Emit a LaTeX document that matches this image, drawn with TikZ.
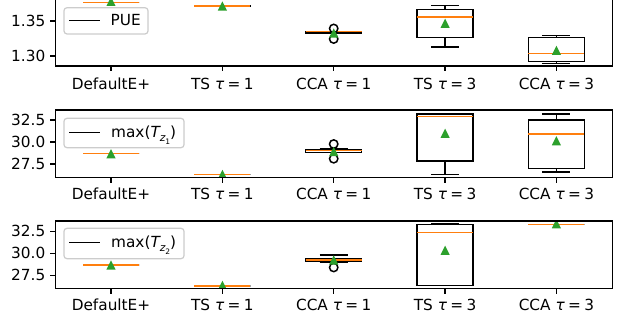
\documentclass[tikz,border=0pt]{standalone}
\usepackage{fontspec}
\setmainfont{DejaVu Sans}[ItalicFont={DejaVu Sans Oblique}]
\definecolor{medc}{HTML}{FF7F0E}
\definecolor{meanc}{HTML}{2CA02C}
\definecolor{legc}{HTML}{CCCCCC}
\tikzset{
  boxl/.style={line width=1.5pt},
  medl/.style={medc, line width=1.5pt},
  whisk/.style={line width=1.5pt},
  flier/.style={line width=1.5pt},
  axframe/.style={line width=1.2pt},
  tickl/.style={line width=1.2pt},
  xlab/.style={anchor=base, inner sep=0pt},
  ylab/.style={anchor=east, inner sep=0pt},
  legframe/.style={draw=legc, fill=white, fill opacity=0.8, line width=1.2pt, rounded corners=3pt},
  legline/.style={line width=1.5pt},
  legtxt/.style={anchor=base west, inner sep=0pt},
}
% centre, low whisker, q1, median, q3, high whisker, mean, fliers
\newcommand{\bxp}[8]{%
  \draw[whisk] (#1,#2) -- (#1,#3) (#1,#5) -- (#1,#6);
  \draw[whisk] (#1-14,#2) -- (#1+14,#2) (#1-14,#6) -- (#1+14,#6);
  \draw[boxl] (#1-28,#3) rectangle (#1+28,#5);
  \draw[medl] (#1-28,#4) -- (#1+28,#4);
  \if\relax\detokenize{#8}\relax\else
    \foreach \f in {#8} {\draw[flier] (#1,\f) circle[radius=4.2pt];}
  \fi
  \fill[meanc] (#1,#7) +(-4.6pt,-4.6pt) -- +(4.6pt,-4.6pt) -- +(0pt,4.6pt) -- cycle;
}
\newcommand{\tlab}[2]{#1 {\itshape τ}\hspace{.22em}=\hspace{.22em}#2}
\newcommand{\Tz}[1]{{\itshape T}\raisebox{-.3em}{\fontsize{10.7}{12}\selectfont\itshape z\raisebox{-.22em}{\fontsize{7.5}{9}\selectfont\upshape #1}}}

\begin{document}
\begin{tikzpicture}[x=1pt, y=-1pt, font=\fontsize{15.3}{18}\selectfont]
  \useasboundingbox (0,0) rectangle (621,320);
  \clip (0,0) rectangle (621,320);

  % PUE
  \begin{scope}[y=700pt, yshift=-966pt]
    \begin{scope}
      \clip (55.3,1.3807) rectangle (612.3,1.2857);
      \bxp{111}{1.3762}{1.3762}{1.3762}{1.3762}{1.3762}{1.3780}{}
      \bxp{222.4}{1.3704}{1.3704}{1.3714}{1.3714}{1.3714}{1.3714}{}
      \bxp{333.7}{1.3331}{1.3331}{1.3347}{1.3350}{1.3350}{1.3329}{1.3393,1.3243}
      \bxp{445.1}{1.3129}{1.3261}{1.3557}{1.3661}{1.3719}{1.3467}{}
      \bxp{556.4}{1.2890}{1.2919}{1.3039}{1.3261}{1.3296}{1.3081}{}
    \end{scope}
    \draw[axframe] (55.3,1.3807) rectangle (612.3,1.2857);
    \foreach \v [count=\j] in {1.30,1.35}
      {\draw[tickl] (50,\v) -- (55.3,\v);
       \node[ylab] (ya\j) at (45.5,\v) {\v};}
  \end{scope}

  % max T_z1
  \begin{scope}[y=8.8pt, yshift=-406pt]
    \begin{scope}
      \clip (55.3,33.636) rectangle (612.3,25.943);
      \bxp{111}{28.67}{28.67}{28.67}{28.67}{28.67}{28.67}{}
      \bxp{222.4}{26.30}{26.30}{26.30}{26.30}{26.30}{26.32}{}
      \bxp{333.7}{28.83}{28.83}{29.01}{29.16}{29.20}{28.92}{29.77,28.10}
      \bxp{445.1}{26.28}{27.84}{32.92}{33.18}{33.22}{30.99}{}
      \bxp{556.4}{26.59}{27.01}{30.91}{32.50}{33.18}{30.15}{}
    \end{scope}
    \draw[axframe] (55.3,33.636) rectangle (612.3,25.943);
    \foreach \v [count=\j] in {27.5,30.0,32.5}
      {\draw[tickl] (50,\v) -- (55.3,\v);
       \node[ylab] (yb\j) at (45.5,\v) {\v};}
  \end{scope}

  % max T_z2
  \begin{scope}[y=8.8pt, yshift=-517.3pt]
    \begin{scope}
      \clip (55.3,33.67) rectangle (612.3,25.977);
      \bxp{111}{28.67}{28.67}{28.67}{28.67}{28.67}{28.67}{}
      \bxp{222.4}{26.28}{26.28}{26.28}{26.28}{26.28}{26.36}{}
      \bxp{333.7}{28.98}{29.09}{29.24}{29.43}{29.81}{29.24}{28.39}
      \bxp{445.1}{26.36}{26.36}{32.39}{33.25}{33.36}{30.34}{}
      \bxp{556.4}{33.25}{33.25}{33.25}{33.25}{33.25}{33.36}{}
    \end{scope}
    \draw[axframe] (55.3,33.67) rectangle (612.3,25.977);
    \foreach \v [count=\j] in {27.5,30.0,32.5}
      {\draw[tickl] (50,\v) -- (55.3,\v);
       \node[ylab] (yc\j) at (45.5,\v) {\v};}
  \end{scope}

  % x ticks and labels
  \foreach \bot/\base [count=\r] in {66/89.3, 177.7/199.3, 288.7/310.3}
    \foreach \lab [count=\k] in {DefaultE+, \tlab{TS}{1}, \tlab{CCA}{1}, \tlab{TS}{3}, \tlab{CCA}{3}}
      {\pgfmathsetmacro\cx{111+111.35*(\k-1)}
       \draw[tickl] (\cx,\bot) -- (\cx,\bot+5.3);
       \node[xlab] (x\r-\k) at (\cx,\base) {\lab};}

  % legends
  \draw[legframe] (64,7.7) rectangle (148,34);
  \draw[legline] (69,20.3) -- (100,20.3);
  \node[legtxt] (lgA) at (110.5,26) {PUE};

  \draw[legframe] (64,118.3) rectangle (184,147.7);
  \draw[legline] (69,132.3) -- (100,132.3);
  \node[legtxt] (lgB) at (111,137.3) {max(\Tz{1})};

  \draw[legframe] (64,228.3) rectangle (184,258.7);
  \draw[legline] (69,242.3) -- (100,242.3);
  \node[legtxt] (lgC) at (111,247.3) {max(\Tz{2})};
\end{tikzpicture}
\end{document}
